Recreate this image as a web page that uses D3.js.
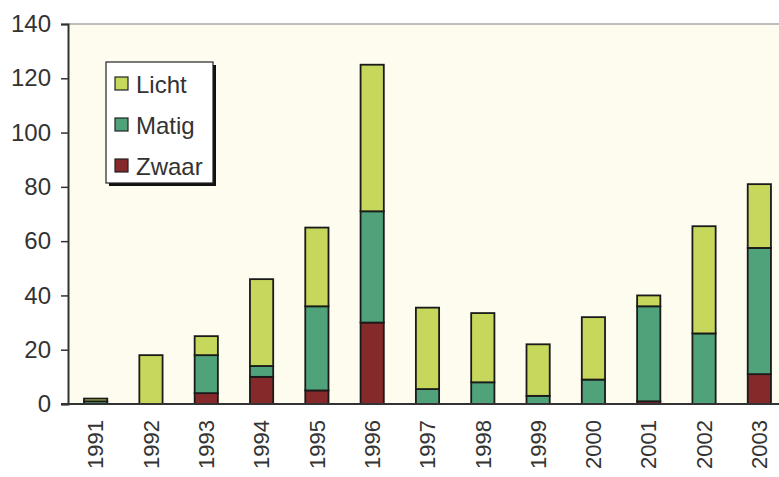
<!DOCTYPE html>
<html>
<head>
<meta charset="utf-8">
<script src="https://cdn.jsdelivr.net/npm/d3@7"></script>
<style>
	body { margin: 0; background: #fff; }
	svg { display: block; font-family: Arial, "Liberation Sans", sans-serif; }
</style>
</head>
<body>
<svg id="chart" width="779" height="477"></svg>
<script>
// data
var years = ['1991','1992','1993','1994','1995','1996','1997','1998','1999','2000','2001','2002','2003'];
var zwaar = [0, 0, 4, 10, 5, 30, 0, 0, 0, 0, 1, 0, 11];
var matig = [1, 0, 14, 4, 31, 41, 5.5, 8, 3, 9, 35, 26, 46.5];
var licht = [1, 18, 7, 32, 29, 54, 30, 25.5, 19, 23, 4, 39.5, 23.5];
var yTicks = [0, 20, 40, 60, 80, 100, 120, 140];

var seriesNames = ['Zwaar', 'Matig', 'Licht'];
var colors = { Zwaar: '#86292b', Matig: '#4fa279', Licht: '#c6d75c' };

var rows = years.map(function(y, i) {
	return { year: y, Zwaar: zwaar[i], Matig: matig[i], Licht: licht[i] };
});

var svg = d3.select('#chart');
// note: "top" is taken by window.top, so plot edges get their own names
var plotLeft = 68, plotRight = 787, plotTop = 24, plotBottom = 404;

var x = d3.scaleBand().domain(years).range([plotLeft, plotRight]).paddingInner(0.58).paddingOuter(0.29);
var y = d3.scaleLinear().domain([0, 140]).range([plotBottom, plotTop]);

// plot background
svg.append('rect')
	.attr('x', plotLeft).attr('y', plotTop)
	.attr('width', 779 - plotLeft).attr('height', plotBottom - plotTop)
	.style('fill', '#fefcef');

// top border line
svg.append('line')
	.attr('x1', plotLeft).attr('x2', 779)
	.attr('y1', y(140)).attr('y2', y(140))
	.style('stroke', '#a8a8a8').style('stroke-width', 1.5);

var stack = d3.stack().keys(seriesNames)(rows);

svg.append('g').selectAll('g')
	.data(stack)
	.enter().append('g')
	.style('fill', function(d) { return colors[d.key]; })
	.selectAll('rect')
	.data(function(d) { return d.filter(function(s) { return s[1] - s[0] > 0; }); })
	.enter().append('rect')
	.attr('x', function(d) { return x(d.data.year); })
	.attr('y', function(d) { return y(d[1]); })
	.attr('width', x.bandwidth())
	.attr('height', function(d) { return y(d[0]) - y(d[1]); })
	.style('stroke', '#1a1a1a')
	.style('stroke-width', 1.8);

// y axis
var yAxis = svg.append('g')
	.attr('transform', 'translate(' + plotLeft + ',0)')
	.call(d3.axisLeft(y).tickValues(yTicks).tickSize(7).tickPadding(10));
yAxis.select('.domain').style('stroke', '#333').style('stroke-width', 2);
yAxis.selectAll('.tick line').style('stroke', '#333').style('stroke-width', 1.5);
yAxis.selectAll('.tick text').style('font-size', '24px').style('fill', '#333')
	.style('font-family', 'Arial, "Liberation Sans", sans-serif');

// x axis
var xAxis = svg.append('g')
	.attr('transform', 'translate(0,' + plotBottom + ')')
	.call(d3.axisBottom(x).tickSize(0).tickPadding(0));
xAxis.select('.domain').remove();
xAxis.append('line')
	.attr('x1', plotLeft - 7).attr('x2', 779)
	.style('stroke', '#333').style('stroke-width', 2);
xAxis.selectAll('.tick text')
	.attr('transform', 'rotate(-90)')
	.attr('x', -16).attr('y', 0).attr('dy', '0.35em')
	.style('text-anchor', 'end')
	.style('font-size', '22px').style('fill', '#333')
	.style('font-family', 'Arial, "Liberation Sans", sans-serif');

// legend
var legend = svg.append('g').attr('transform', 'translate(106,62)');
legend.append('rect')
	.attr('x', 3).attr('y', 3).attr('width', 107).attr('height', 121)
	.style('fill', '#111');
legend.append('rect')
	.attr('width', 107).attr('height', 121)
	.style('fill', '#fff').style('stroke', '#222').style('stroke-width', 1.2);

var legendItems = ['Licht', 'Matig', 'Zwaar'];
var item = legend.selectAll('g.item')
	.data(legendItems)
	.enter().append('g')
	.attr('class', 'item')
	.attr('transform', function(d, i) { return 'translate(9,' + (15 + i * 41) + ')'; });
item.append('rect')
	.attr('width', 13).attr('height', 13)
	.style('fill', function(d) { return colors[d]; })
	.style('stroke', '#222').style('stroke-width', 1.2);
item.append('text')
	.attr('x', 21).attr('y', 7).attr('dy', '0.36em')
	.style('font-size', '24px').style('fill', '#333')
	.text(function(d) { return d; });
</script>
</body>
</html>
